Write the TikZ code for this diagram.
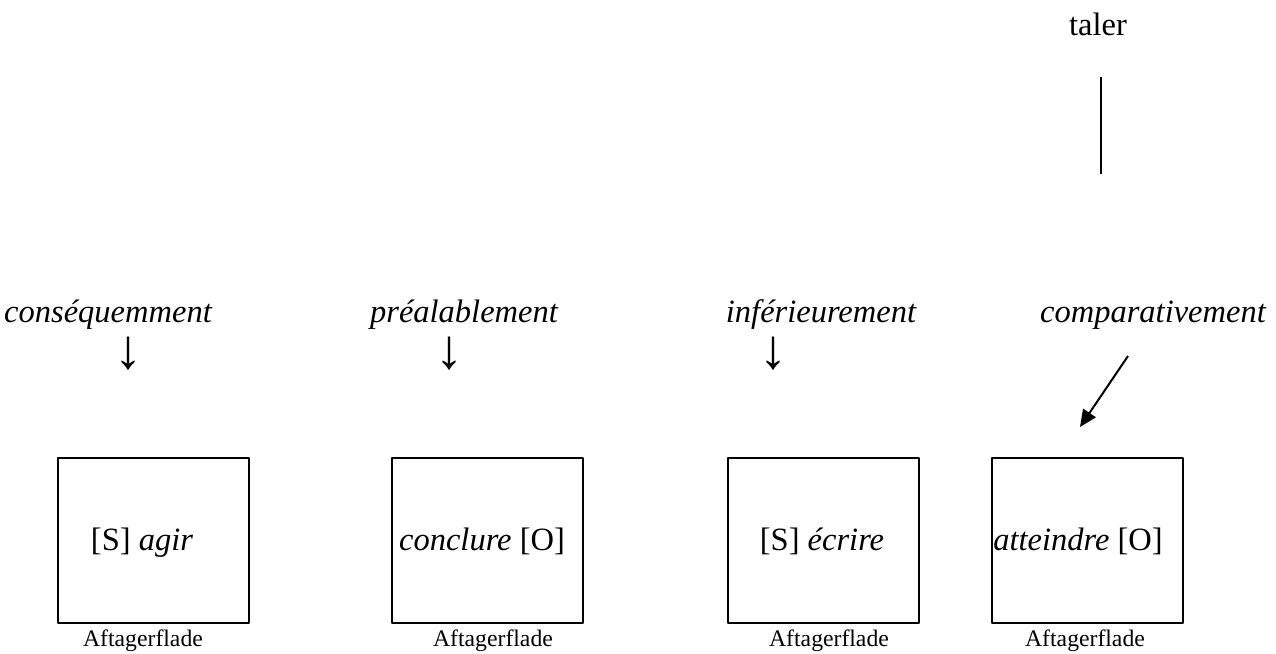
\documentclass[tikz,border=0pt]{standalone}
\usepackage{fontspec}
\setmainfont{Liberation Serif}
\usetikzlibrary{arrows.meta}
\begin{document}
\begin{tikzpicture}[x=0.5pt, y=-0.5pt, line join=round,
  big/.style={font=\fontsize{16.25}{19}\selectfont, inner sep=0pt, anchor=base},
  word/.style={font=\fontsize{16.25}{19}\selectfont\itshape, inner sep=0pt, anchor=base},
  small/.style={font=\fontsize{11.85}{14}\selectfont, inner sep=0pt, anchor=base},
  down/.style={font=\fontsize{28}{30}\selectfont, inner sep=0pt},
  box/.style={draw, line width=1.2pt, minimum width=95.5pt, minimum height=82.5pt, inner sep=0pt}]
\useasboundingbox (0,0) rectangle (1276,654);
% top
\node[big] (taler) at (1098,35) {taler};
\coordinate (tA) at (1101,77);
\coordinate (tB) at (1101,174);
\draw[line width=0.9pt] (tA) -- (tB);
% adverbs
\node[word] (w1) at (108,322) {conséquemment};
\node[word] (w2) at (464,322) {préalablement};
\node[word] (w3) at (821,322) {inférieurement};
\node[word] (w4) at (1153,322) {comparativement};
\node[down] (a1) at (128,354) {↓};
\node[down] (a2) at (449,354) {↓};
\node[down] (a3) at (773,354) {↓};
\coordinate (dA) at (1128,356);
\coordinate (dB) at (1080,427);
\draw[line width=1pt, -{Triangle[length=8.5pt,width=7.5pt]}] (dA) -- (dB);
% boxes
\node[box] (b1) at (153.5,540.5) {};
\node[box] (b2) at (487.5,540.5) {};
\node[box] (b3) at (823.5,540.5) {};
\node[box] (b4) at (1087.5,540.5) {};
\node[big] (v1) at (142,550) {[S] \textit{agir}};
\node[big] (v2) at (482,550) {\textit{conclure} [O]};
\node[big] (v3) at (822,550) {[S] \textit{écrire}};
\node[big] (v4) at (1078,550) {\textit{atteindre} [O]};
\node[small] (f1) at (143,646) {Aftagerflade};
\node[small] (f2) at (493,646) {Aftagerflade};
\node[small] (f3) at (829,646) {Aftagerflade};
\node[small] (f4) at (1085,646) {Aftagerflade};
\end{tikzpicture}
\end{document}
